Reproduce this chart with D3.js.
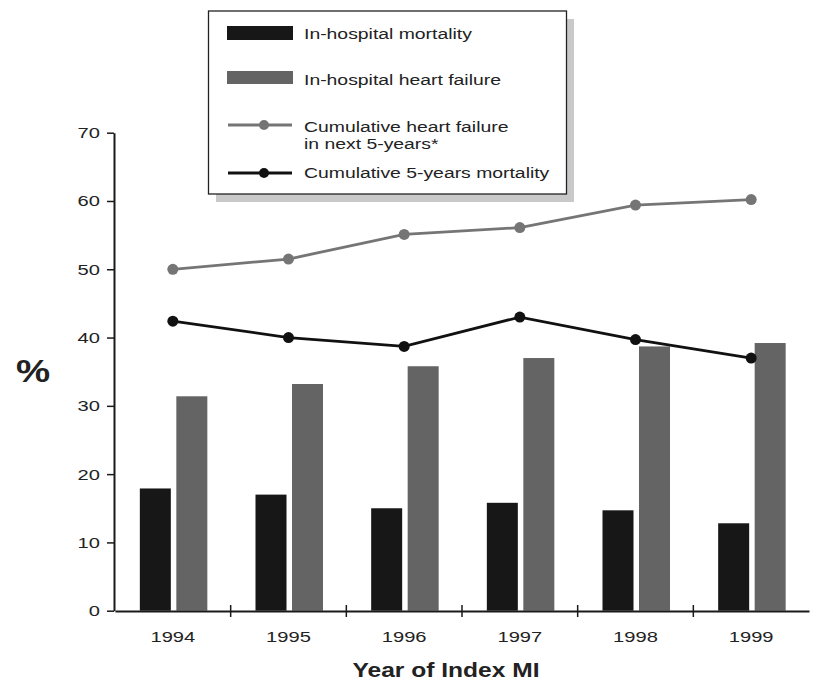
<!DOCTYPE html>
<html>
<head>
<meta charset="utf-8">
<script src="https://cdn.jsdelivr.net/npm/d3@7"></script>
<style>
  body { margin: 0; background: #fff; }
  svg { font-family: "Liberation Sans", Arial, Helvetica, sans-serif; }
</style>
</head>
<body>
<svg id="chart" width="817" height="681"></svg>
<script>
// Years of index MI
var years = ['1994', '1995', '1996', '1997', '1998', '1999'];

// Bars
var hospMortality = [17.9, 17.0, 15.0, 15.8, 14.7, 12.8];
var hospHeartFailure = [31.4, 33.2, 35.8, 37.0, 38.7, 39.2];

// Lines
var cumHeartFailure = [50.0, 51.5, 55.1, 56.1, 59.4, 60.2];
var cumMortality = [42.4, 40.0, 38.7, 43.0, 39.7, 37.0];

var yTicks = [0, 10, 20, 30, 40, 50, 60, 70];

var svg = d3.select('#chart');

// text in the original is a bit wide, stretch it
var sx = 1.3;

var x = d3.scaleBand().domain(years).range([115, 809]).padding(0);
var y = d3.scaleLinear().domain([0, 70]).range([610.7, 132.7]);

var cx = function(i) { return x(years[i]) + x.bandwidth() / 2; };

// Bars
svg.append('g').selectAll('rect')
   .data(hospMortality)
   .enter().append('rect')
   .attr('x', function(d, i) { return cx(i) - 33; })
   .attr('y', function(d) { return y(d); })
   .attr('width', 31)
   .attr('height', function(d) { return y(0) - y(d); })
   .attr('fill', '#171717');

svg.append('g').selectAll('rect')
   .data(hospHeartFailure)
   .enter().append('rect')
   .attr('x', function(d, i) { return cx(i) + 3.5; })
   .attr('y', function(d) { return y(d); })
   .attr('width', 31)
   .attr('height', function(d) { return y(0) - y(d); })
   .attr('fill', '#646464');

// Lines
var line = d3.line()
  .x(function(d, i) { return cx(i); })
  .y(function(d) { return y(d); });

var drawLine = function(data, color) {
  svg.append('path')
     .datum(data)
     .attr('d', line)
     .attr('fill', 'none')
     .attr('stroke', color)
     .attr('stroke-width', 2.8);
  svg.append('g').selectAll('circle')
     .data(data)
     .enter().append('circle')
     .attr('cx', function(d, i) { return cx(i); })
     .attr('cy', function(d) { return y(d); })
     .attr('r', 5.5)
     .attr('fill', color);
};
drawLine(cumHeartFailure, '#757575');
drawLine(cumMortality, '#111');

// Y axis
var yAxis = svg.append('g')
  .attr('transform', 'translate(114,0)')
  .call(d3.axisLeft(y).tickValues(yTicks).tickSize(7).tickSizeOuter(0));
yAxis.select('.domain').attr('stroke', '#1a1a1a').attr('stroke-width', 2);
yAxis.selectAll('.tick line').attr('stroke', '#1a1a1a').attr('stroke-width', 1.5);
yAxis.selectAll('text')
     .attr('font-size', 15.5).attr('fill', '#222').attr('font-family', null)
     .attr('x', -14 / sx)
     .attr('transform', 'scale(' + sx + ',1)');

// X axis
var xAxis = svg.append('g')
  .attr('transform', 'translate(0,611)')
  .call(d3.axisBottom(x).tickSize(0).tickSizeOuter(0));
xAxis.select('.domain').attr('stroke', '#1a1a1a').attr('stroke-width', 2);
xAxis.selectAll('text')
     .attr('font-size', 15.5).attr('fill', '#222').attr('font-family', null)
     .attr('y', 31).attr('dy', 0)
     .attr('transform', 'scale(' + sx + ',1)');

// tick marks between years
svg.append('g').selectAll('line')
   .data(years.slice(1))
   .enter().append('line')
   .attr('x1', function(d) { return x(d); })
   .attr('x2', function(d) { return x(d); })
   .attr('y1', 605)
   .attr('y2', 617)
   .attr('stroke', '#1a1a1a')
   .attr('stroke-width', 1.5);

// Axis titles
svg.append('text')
   .attr('transform', 'translate(446,677) scale(1.17,1)')
   .attr('text-anchor', 'middle')
   .attr('font-size', 21).attr('font-weight', 'bold').attr('fill', '#222')
   .text('Year of Index MI');

svg.append('text')
   .attr('transform', 'translate(33,382) scale(1.2,1)')
   .attr('text-anchor', 'middle')
   .attr('font-size', 32).attr('font-weight', 'bold').attr('fill', '#222')
   .text('%');

// Legend
var legend = svg.append('g');
legend.append('rect')
      .attr('x', 216).attr('y', 19).attr('width', 358).attr('height', 183)
      .attr('fill', '#c9c9c9');
legend.append('rect')
      .attr('x', 208.5).attr('y', 11).attr('width', 358).attr('height', 183)
      .attr('fill', '#fff').attr('stroke', '#222').attr('stroke-width', 1.3);

legend.append('rect').attr('x', 227).attr('y', 26).attr('width', 66).attr('height', 14).attr('fill', '#171717');
legend.append('rect').attr('x', 227).attr('y', 71).attr('width', 66).attr('height', 13).attr('fill', '#646464');

legend.append('line').attr('x1', 228).attr('x2', 292).attr('y1', 125).attr('y2', 125)
      .attr('stroke', '#757575').attr('stroke-width', 2.8);
legend.append('circle').attr('cx', 264).attr('cy', 125).attr('r', 5).attr('fill', '#757575');
legend.append('line').attr('x1', 228).attr('x2', 292).attr('y1', 173).attr('y2', 173)
      .attr('stroke', '#111').attr('stroke-width', 2.8);
legend.append('circle').attr('cx', 264).attr('cy', 173).attr('r', 5).attr('fill', '#111');

var legendText = [
  ['In-hospital mortality', 39],
  ['In-hospital heart failure', 85],
  ['Cumulative heart failure', 132],
  ['in next 5-years*', 149],
  ['Cumulative 5-years mortality', 178]
];
legend.selectAll('text')
      .data(legendText)
      .enter().append('text')
      .attr('transform', function(d) { return 'translate(304,' + d[1] + ') scale(1.25,1)'; })
      .attr('font-size', 15.5)
      .attr('fill', '#222')
      .text(function(d) { return d[0]; });
</script>
</body>
</html>
